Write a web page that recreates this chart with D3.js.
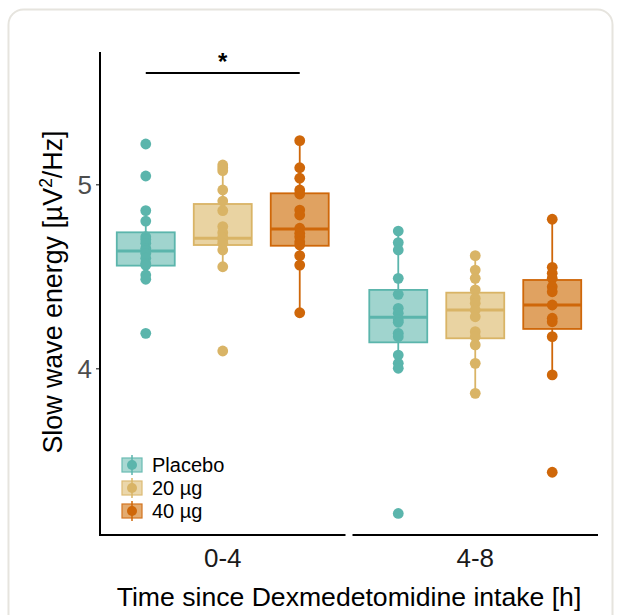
<!DOCTYPE html>
<html>
<head>
<meta charset="utf-8">
<script src="https://cdn.jsdelivr.net/npm/d3@7"></script>
<style>
  html, body { margin: 0; padding: 0; background: #ffffff; }
  svg { display: block; font-family: "Liberation Sans", Arial, sans-serif; }
</style>
</head>
<body>
<svg id="chart" width="617" height="615"></svg>
<script>
// ---------- data ----------
const groups = ["0-4", "4-8"];
const doses = ["Placebo", "20 µg", "40 µg"];
const yTicks = [4, 5];

// individual points
const placebo_0_4 = [5.219, 5.045, 4.857, 4.80, 4.715, 4.70, 4.679, 4.652, 4.64, 4.625, 4.598, 4.57, 4.56, 4.507, 4.484, 4.19];
const placebo_4_8 = [4.746, 4.683, 4.643, 4.489, 4.402, 4.326, 4.299, 4.263, 4.25, 4.19, 4.172, 4.072, 4.027, 4.00, 3.211];
const dose20_0_4 = [5.105, 5.09, 5.074, 4.969, 4.909, 4.857, 4.77, 4.737, 4.712, 4.70, 4.679, 4.643, 4.552, 4.094];
const dose20_4_8 = [4.612, 4.534, 4.489, 4.426, 4.380, 4.353, 4.317, 4.280, 4.199, 4.172, 4.127, 4.027, 3.864];
const dose40_0_4 = [5.237, 5.090, 5.033, 4.969, 4.947, 4.860, 4.833, 4.761, 4.734, 4.715, 4.688, 4.670, 4.612, 4.561, 4.302];
const dose40_4_8 = [4.810, 4.549, 4.516, 4.489, 4.443, 4.416, 4.344, 4.272, 4.253, 4.172, 3.964, 3.435];

// box statistics per dose, ordered by groups
const placebo_q1 = [4.558, 4.141], placebo_med = [4.637, 4.277], placebo_q3 = [4.739, 4.426], placebo_lo = [4.484, 4.000], placebo_hi = [4.857, 4.746];
const dose20_q1 = [4.670, 4.163], dose20_med = [4.707, 4.317], dose20_q3 = [4.893, 4.411], dose20_lo = [4.552, 3.864], dose20_hi = [5.105, 4.612];
const dose40_q1 = [4.666, 4.214], dose40_med = [4.757, 4.344], dose40_q3 = [4.951, 4.480], dose40_lo = [4.302, 3.964], dose40_hi = [5.237, 4.810];

// significance bracket (group, from dose, to dose, height, label)
const sigGroup = "0-4", sigFrom = "Placebo", sigTo = "40 µg", sigY = 5.605, sigLabel = "*";

const colors = ["#5BB5AC", "#D9B466", "#CF6709"];
const fills = ["#A0D4CE", "#E9D3A2", "#E0A261"];

const pointsByDose = [[placebo_0_4, placebo_4_8], [dose20_0_4, dose20_4_8], [dose40_0_4, dose40_4_8]];
const statsByDose = [
  {q1: placebo_q1, med: placebo_med, q3: placebo_q3, lo: placebo_lo, hi: placebo_hi},
  {q1: dose20_q1, med: dose20_med, q3: dose20_q3, lo: dose20_lo, hi: dose20_hi},
  {q1: dose40_q1, med: dose40_med, q3: dose40_q3, lo: dose40_lo, hi: dose40_hi}
];

// ---------- layout ----------
const svg = d3.select("#chart");
const pLeft = 100, pRight = 598, pTop = 52, pBottom = 535;

// card background
svg.append("rect")
  .attr("x", 8.5).attr("y", 9.5).attr("width", 604).attr("height", 630)
  .attr("rx", 15).attr("ry", 15)
  .attr("fill", "#ffffff").attr("stroke", "#E6E4DE").attr("stroke-width", 2);

const y = d3.scaleLinear().domain([3.094, 5.719]).range([pBottom, pTop]);
const xGroup = d3.scaleBand().domain(groups).range([pLeft, pRight]).paddingInner(0.0277).paddingOuter(0);
const xDose = d3.scaleBand().domain(doses).range([0, xGroup.bandwidth()]).paddingInner(0.247).paddingOuter(0.218);
const cx = (g, d) => xGroup(g) + xDose(d) + xDose.bandwidth() / 2;
const bw = xDose.bandwidth();

// boxes
doses.forEach((d, di) => {
  const st = statsByDose[di];
  groups.forEach((g, gi) => {
    const c = cx(g, d);
    const gg = svg.append("g");
    gg.append("line").attr("x1", c).attr("x2", c)
      .attr("y1", y(st.q3[gi])).attr("y2", y(st.hi[gi]))
      .attr("stroke", colors[di]).attr("stroke-width", 1.8);
    gg.append("line").attr("x1", c).attr("x2", c)
      .attr("y1", y(st.q1[gi])).attr("y2", y(st.lo[gi]))
      .attr("stroke", colors[di]).attr("stroke-width", 1.8);
    gg.append("rect")
      .attr("x", c - bw / 2).attr("width", bw)
      .attr("y", y(st.q3[gi])).attr("height", y(st.q1[gi]) - y(st.q3[gi]))
      .attr("fill", fills[di]).attr("stroke", colors[di]).attr("stroke-width", 1.8);
    gg.append("line")
      .attr("x1", c - bw / 2).attr("x2", c + bw / 2)
      .attr("y1", y(st.med[gi])).attr("y2", y(st.med[gi]))
      .attr("stroke", colors[di]).attr("stroke-width", 3);
  });
});

// points
doses.forEach((d, di) => {
  groups.forEach((g, gi) => {
    svg.append("g").selectAll("circle")
      .data(pointsByDose[di][gi]).join("circle")
      .attr("cx", cx(g, d)).attr("cy", v => y(v)).attr("r", 5.4)
      .attr("fill", colors[di]);
  });
});

// axes
const yAxis = d3.axisLeft(y).tickValues(yTicks).tickSize(4).tickPadding(4).tickFormat(d3.format("d"));
const ya = svg.append("g").attr("transform", `translate(${pLeft},0)`).call(yAxis);
ya.select(".domain").remove();
ya.selectAll(".tick line").attr("stroke", "#333").attr("stroke-width", 1.2);
ya.selectAll(".tick text").attr("font-size", 26).attr("fill", "#4D4D4D")
  .attr("font-family", "'Liberation Sans', Arial, sans-serif").attr("dy", "0.36em");
svg.append("line").attr("x1", pLeft).attr("x2", pLeft).attr("y1", pTop).attr("y2", pBottom + 1)
  .attr("stroke", "#000").attr("stroke-width", 2);

groups.forEach(g => {
  svg.append("line")
    .attr("x1", xGroup(g) - (g === groups[0] ? 1 : 0)).attr("x2", xGroup(g) + xGroup.bandwidth())
    .attr("y1", pBottom).attr("y2", pBottom)
    .attr("stroke", "#000").attr("stroke-width", 2);
  svg.append("text")
    .attr("x", xGroup(g) + xGroup.bandwidth() / 2).attr("y", 567)
    .attr("text-anchor", "middle").attr("font-size", 26).attr("fill", "#1a1a1a")
    .text(g);
});

// axis titles
svg.append("text")
  .attr("x", (pLeft + pRight) / 2).attr("y", 606)
  .attr("text-anchor", "middle").attr("font-size", 26.6).attr("fill", "#000")
  .text("Time since Dexmedetomidine intake [h]");

const yt = svg.append("text")
  .attr("transform", `translate(62, 292) rotate(-90)`)
  .attr("text-anchor", "middle").attr("font-size", 26.8).attr("fill", "#000");
yt.append("tspan").text("Slow wave energy [µV");
yt.append("tspan").attr("font-size", 17.5).attr("dy", -10).text("2");
yt.append("tspan").attr("dy", 10).text("/Hz]");

// significance bracket
svg.append("line")
  .attr("x1", cx(sigGroup, sigFrom)).attr("x2", cx(sigGroup, sigTo))
  .attr("y1", y(sigY)).attr("y2", y(sigY))
  .attr("stroke", "#000").attr("stroke-width", 2);
svg.append("text")
  .attr("x", (cx(sigGroup, sigFrom) + cx(sigGroup, sigTo)) / 2).attr("y", y(sigY) - 3)
  .attr("text-anchor", "middle").attr("font-size", 24).attr("font-weight", "bold").attr("fill", "#000")
  .text(sigLabel);

// legend
const legX = 132, legY0 = 465, legStep = 23;
doses.forEach((d, di) => {
  const ly = legY0 + di * legStep;
  const lg = svg.append("g");
  lg.append("rect").attr("x", legX - 10).attr("y", ly - 7).attr("width", 20).attr("height", 14)
    .attr("fill", fills[di]).attr("stroke", colors[di]).attr("stroke-width", 1.2).attr("opacity", 0.9);
  lg.append("line").attr("x1", legX).attr("x2", legX).attr("y1", ly - 10).attr("y2", ly + 10)
    .attr("stroke", colors[di]).attr("stroke-width", 1.5);
  lg.append("circle").attr("cx", legX).attr("cy", ly).attr("r", 5).attr("fill", colors[di]);
  lg.append("text").attr("x", legX + 20).attr("y", ly + 7)
    .attr("font-size", 20).attr("fill", "#000").text(d);
});
</script>
</body>
</html>
